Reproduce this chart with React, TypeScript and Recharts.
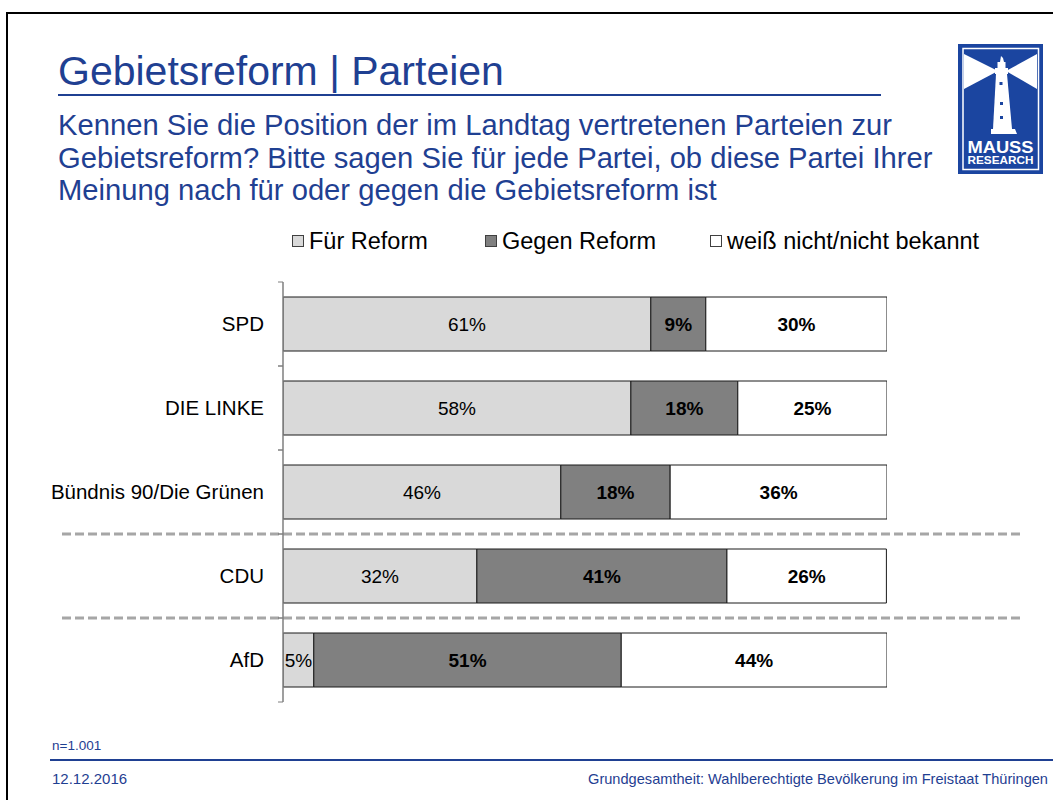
import React from "react";
import {
  BarChart,
  Bar,
  XAxis,
  YAxis,
  Legend,
  LabelList,
  ReferenceLine,
} from "recharts";

const parties = ["SPD", "DIE LINKE", "Bündnis 90/Die Grünen", "CDU", "AfD"];
const forReform = [60.9, 57.6, 46.0, 32.1, 5.1];
const againstReform = [9.1, 17.7, 18.1, 41.4, 50.9];
const dontKnow = [30.0, 24.7, 35.9, 26.4, 44.0];
const seriesNames = ["Für Reform", "Gegen Reform", "weiß nicht/nicht bekannt"];
// dashed separators sit above these parties
const groupStarts = ["CDU", "AfD"];

const data = parties.map((party, i) => ({
  party,
  fuer: forReform[i],
  gegen: againstReform[i],
  weiss: dontKnow[i],
}));

const FONT = '"Liberation Sans", Arial, Helvetica, sans-serif';
const BLUE = "#1f4092";
const pct = (v: any) => `${Math.round(Number(v))}%`;

const legendLefts = [292, 485, 710];

function SlideLegend({ payload }: any) {
  return (
    <div style={{ position: "relative", height: 30, fontFamily: FONT }}>
      {(payload || []).map((entry: any, i: number) => (
        <div
          key={entry.value}
          style={{
            position: "absolute",
            left: legendLefts[i],
            top: 0,
            height: 30,
            display: "flex",
            alignItems: "center",
            whiteSpace: "nowrap",
          }}
        >
          <span
            style={{
              width: 10,
              height: 10,
              border: "1px solid #404040",
              background: entry.color,
              marginRight: 5,
            }}
          />
          <span style={{ fontSize: 23.5, color: "#000" }}>{entry.value}</span>
        </div>
      ))}
    </div>
  );
}

// category label plus small tick marks at the band edges
function PartyTick(props: any) {
  const { x, y, payload } = props;
  const half = payload && payload.offset ? payload.offset : 0;
  return (
    <g>
      {half > 0 && (
        <>
          <line x1={x + 14} x2={x + 19} y1={y - half} y2={y - half} stroke="#7f7f7f" />
          <line x1={x + 14} x2={x + 19} y1={y + half} y2={y + half} stroke="#7f7f7f" />
        </>
      )}
      <text
        x={x}
        y={y}
        dy="0.355em"
        textAnchor="end"
        fontSize={20.5}
        fill="#000"
        fontFamily={FONT}
      >
        {payload.value}
      </text>
    </g>
  );
}

function DashedBreak(props: any) {
  const { x1, x2, y1 } = props;
  return (
    <line
      x1={x1 - 221}
      x2={x2 + 133}
      y1={y1}
      y2={y1}
      stroke="#a6a6a6"
      strokeWidth={3}
      strokeDasharray="9 4"
    />
  );
}

function Logo() {
  return (
    <svg
      width={85}
      height={130}
      viewBox="0 0 85 130"
      style={{ position: "absolute", left: 958, top: 44 }}
    >
      <rect width={85} height={130} fill="#1b45a0" />
      <rect x={5} y={4.5} width={75.5} height={121} fill="none" stroke="#fff" strokeWidth={1.5} />
      <polygon points="6,10 6,45 40,27" fill="#fff" />
      <polygon points="79,10 79,45 48,27" fill="#fff" />
      <polygon points="38,30 49,30 54,85 35,85" fill="#fff" />
      <rect x={37} y={24} width={13} height={6} fill="#fff" />
      <rect x={39.5} y={18} width={8} height={7} fill="#fff" />
      <path d="M42 18 L43 12 L45 14 L46 18 Z" fill="#fff" />
      <path d="M33 85 L57 85 L59 90 L33 90 Z" fill="#fff" />
      <rect x={41.5} y={38} width={3} height={3} fill="#1b45a0" />
      <rect x={42} y={58} width={3} height={3} fill="#1b45a0" />
      <rect x={42} y={72} width={3} height={3} fill="#1b45a0" />
      <text
        x={42.5}
        y={109}
        textAnchor="middle"
        fontSize={16}
        fontWeight="bold"
        fill="#fff"
        fontFamily={FONT}
        textLength={66}
        lengthAdjust="spacingAndGlyphs"
      >
        MAUSS
      </text>
      <text
        x={42.5}
        y={120}
        textAnchor="middle"
        fontSize={10.5}
        fontWeight="bold"
        fill="#fff"
        fontFamily={FONT}
        textLength={66}
        lengthAdjust="spacingAndGlyphs"
      >
        RESEARCH
      </text>
    </svg>
  );
}

const subtitleLines = [
  "Kennen Sie die Position der im Landtag vertretenen Parteien zur",
  "Gebietsreform? Bitte sagen Sie für jede Partei, ob diese Partei Ihrer",
  "Meinung nach für oder gegen die Gebietsreform ist",
];

export default function App() {
  return (
    <div
      style={{
        position: "absolute",
        left: 0,
        top: 0,
        width: 1053,
        height: 800,
        background: "#fff",
        overflow: "hidden",
        fontFamily: FONT,
      }}
    >
      {/* slide frame */}
      <div
        style={{
          position: "absolute",
          left: 6,
          top: 12,
          right: -4,
          bottom: -4,
          borderTop: "2px solid #000",
          borderLeft: "2px solid #000",
        }}
      />

      <BarChart
        width={1053}
        height={800}
        data={data}
        layout="vertical"
        margin={{ top: 282, right: 166, bottom: 98, left: 0 }}
        style={{ position: "absolute", left: 0, top: 0 }}
      >
        <XAxis type="number" hide domain={[0, 100]} allowDataOverflow />
        <YAxis
          type="category"
          dataKey="party"
          width={283}
          interval={0}
          tickLine={false}
          axisLine={{ stroke: "#7f7f7f", strokeWidth: 1.5 }}
          tickSize={0}
          tickMargin={19}
          tick={<PartyTick />}
        />
        <Legend
          layout="vertical"
          verticalAlign="middle"
          align="center"
          content={<SlideLegend />}
          wrapperStyle={{ top: 226, left: 0, width: 1053, height: 30 }}
        />
        {groupStarts.map((p) => (
          <ReferenceLine key={p} y={p} position="start" shape={<DashedBreak />} />
        ))}
        <Bar
          dataKey="fuer"
          name={seriesNames[0]}
          stackId="s"
          barSize={54}
          fill="#d9d9d9"
          stroke="#1a1a1a"
          strokeWidth={1}
          isAnimationActive={false}
        >
          <LabelList
            dataKey="fuer"
            position="center"
            formatter={pct}
            fill="#000"
            stroke="none"
            fontSize={19}
            fontFamily={FONT}
          />
        </Bar>
        <Bar
          dataKey="gegen"
          name={seriesNames[1]}
          stackId="s"
          barSize={54}
          fill="#808080"
          stroke="#1a1a1a"
          strokeWidth={1}
          isAnimationActive={false}
        >
          <LabelList
            dataKey="gegen"
            position="center"
            formatter={pct}
            fill="#000"
            stroke="none"
            fontSize={19}
            fontWeight="bold"
            fontFamily={FONT}
          />
        </Bar>
        <Bar
          dataKey="weiss"
          name={seriesNames[2]}
          stackId="s"
          barSize={54}
          fill="#ffffff"
          stroke="#1a1a1a"
          strokeWidth={1}
          isAnimationActive={false}
        >
          <LabelList
            dataKey="weiss"
            position="center"
            formatter={pct}
            fill="#000"
            stroke="none"
            fontSize={19}
            fontWeight="bold"
            fontFamily={FONT}
          />
        </Bar>
      </BarChart>

      {/* title block */}
      <div
        style={{
          position: "absolute",
          left: 58,
          top: 51,
          fontSize: 41,
          lineHeight: "41px",
          color: BLUE,
          whiteSpace: "nowrap",
        }}
      >
        Gebietsreform | Parteien
      </div>
      <div
        style={{
          position: "absolute",
          left: 58,
          top: 94,
          width: 823,
          height: 2,
          background: BLUE,
        }}
      />
      <div
        style={{
          position: "absolute",
          left: 58,
          top: 109,
          fontSize: 29.2,
          lineHeight: "32.5px",
          color: BLUE,
          whiteSpace: "nowrap",
        }}
      >
        {subtitleLines.map((l) => (
          <div key={l}>{l}</div>
        ))}
      </div>

      <Logo />

      {/* footer */}
      <div
        style={{
          position: "absolute",
          left: 52,
          top: 738,
          fontSize: 13.5,
          lineHeight: "16px",
          color: BLUE,
        }}
      >
        n=1.001
      </div>
      <div
        style={{
          position: "absolute",
          left: 50,
          right: 0,
          top: 759,
          height: 2,
          background: BLUE,
        }}
      />
      <div
        style={{
          position: "absolute",
          left: 52,
          top: 771,
          fontSize: 15,
          lineHeight: "16px",
          color: BLUE,
        }}
      >
        12.12.2016
      </div>
      <div
        style={{
          position: "absolute",
          right: 5,
          top: 771,
          fontSize: 14.6,
          lineHeight: "16px",
          color: BLUE,
          whiteSpace: "nowrap",
        }}
      >
        Grundgesamtheit: Wahlberechtigte Bevölkerung im Freistaat Thüringen
      </div>
    </div>
  );
}
